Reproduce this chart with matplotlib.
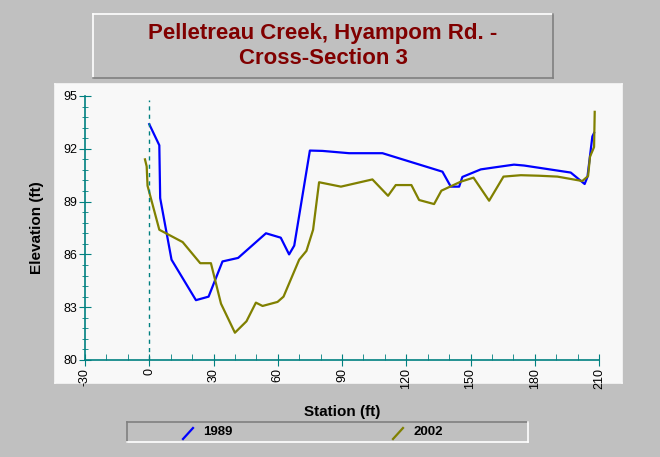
import numpy as np
import matplotlib
matplotlib.use("Agg")
import matplotlib.pyplot as plt
from matplotlib.patches import Rectangle
from matplotlib.lines import Line2D

plt.rcParams['font.family'] = ['Liberation Sans', 'DejaVu Sans']
plt.rcParams['axes.unicode_minus'] = False

# survey data
sta_1989 = [0, 4.7, 5.1, 10.4, 21.8, 27.7, 34.2, 41.5, 54.5, 61.4, 65.3, 67.7,
            75, 80.9, 93.3, 108.9, 136.9, 140.8, 144.7, 146.2, 154.8, 161,
            170.3, 175, 196.8, 200.6, 203.3, 204.6, 206.9, 207.7]
elev_1989 = [93.4, 92.2, 89.2, 85.7, 83.4, 83.6, 85.6, 85.8, 87.2, 86.95, 86.0, 86.5,
             91.9, 91.88, 91.75, 91.75, 90.7, 89.85, 89.85, 90.4, 90.83, 90.94,
             91.1, 91.05, 90.65, 90.27, 90.0, 90.4, 92.7, 92.9]

sta_2002 = [-2, -1.2, -0.8, 4.7, 15.6, 23.8, 28.8, 33.5, 40, 45.4, 49.8, 52.9,
            59.9, 62.7, 70, 73.4, 76.5, 79.3, 89.5, 104.2, 111.5, 115.1, 122.4,
            126, 133, 136.4, 145.4, 151.4, 158.7, 165.4, 173.5, 182, 190.6,
            202.2, 204.9, 205.8, 207.7, 208]
elev_2002 = [91.4, 91.0, 89.9, 87.4, 86.7, 85.5, 85.5, 83.2, 81.55, 82.2, 83.26, 83.07,
             83.3, 83.6, 85.7, 86.2, 87.4, 90.1, 89.85, 90.26, 89.33, 89.94, 89.94,
             89.09, 88.86, 89.62, 90.13, 90.36, 89.05, 90.42, 90.5, 90.47, 90.42,
             90.17, 90.45, 91.55, 92.1, 94.1]

years = ['1989', '2002']
colors = ['#0000ff', '#808000']
x_ticks = np.arange(-30, 211, 30)
y_ticks = np.arange(80, 96, 3)

W, H = 660, 457
fig = plt.figure(figsize=(W / 100, H / 100), dpi=100, facecolor='#c0c0c0')

def box(x0, y0, x1, y1, fc, light, dark):
    # pixel coords, top-left origin
    fig.patches.append(Rectangle((x0 / W, 1 - y1 / H), (x1 - x0) / W, (y1 - y0) / H,
                                 transform=fig.transFigure, facecolor=fc,
                                 edgecolor='none', zorder=-10))
    for (xa, ya, xb, yb, c) in [(x0, y0, x1, y0, light), (x0, y0, x0, y1, light),
                                (x0, y1, x1, y1, dark), (x1, y0, x1, y1, dark)]:
        fig.lines.append(Line2D([xa / W, xb / W], [1 - ya / H, 1 - yb / H],
                                transform=fig.transFigure, color=c, lw=1.2,
                                zorder=-5))

box(55, 84, 622, 383, '#f8f8f8', '#f8f8f8', '#f8f8f8')
box(93, 14, 553, 78, '#c0c0c0', '#ffffff', '#808080')
box(127, 422, 528, 442, '#c0c0c0', '#808080', '#ffffff')

fig.text(323 / W, 1 - 46 / H, 'Pelletreau Creek, Hyampom Rd. -\nCross-Section 3',
         ha='center', va='center', color='#800000', fontsize=16, fontweight='bold',
         linespacing=1.2)

ax = fig.add_axes([85 / W, 1 - 360 / H, (599 - 85) / W, (360 - 96) / H])
ax.patch.set_alpha(0)

ax.plot(sta_1989, elev_1989, color=colors[0], lw=1.6)
ax.plot(sta_2002, elev_2002, color=colors[1], lw=1.6)
ax.axvline(0, color='#008080', lw=1, ls=(0, (3, 3)), ymax=0.985)

ax.set_xlim(-30, 210)
ax.set_ylim(80, 95)
ax.set_xticks(x_ticks)
ax.set_yticks(y_ticks)
ax.set_xticks(np.arange(-30, 211, 10), minor=True)
ax.set_yticks(np.arange(80, 95.01, 0.6), minor=True)

for s in ['top', 'right']:
    ax.spines[s].set_visible(False)
for s in ['left', 'bottom']:
    ax.spines[s].set_color('#008080')
    ax.spines[s].set_linewidth(1.2)

ax.tick_params(axis='x', which='major', direction='inout', length=9, color='#008080',
               labelsize=9, labelrotation=90, pad=1)
ax.tick_params(axis='x', which='minor', direction='in', length=4, color='#008080')
ax.tick_params(axis='y', which='major', direction='inout', length=9, color='#008080',
               labelsize=9, pad=1)
ax.tick_params(axis='y', which='minor', direction='inout', length=5, color='#008080')

ax.set_xlabel('Station (ft)', fontsize=11, fontweight='bold', labelpad=12)
ax.set_ylabel('Elevation (ft)', fontsize=11, fontweight='bold', labelpad=14)

# legend entries
for i, (yr, c) in enumerate(zip(years, colors)):
    lx = [183, 393][i]
    fig.lines.append(Line2D([lx / W, (lx + 10) / W], [1 - 439 / H, 1 - 428 / H],
                            transform=fig.transFigure, color=c, lw=1.6))
    fig.text((lx + 20) / W, 1 - 432 / H, yr, ha='left', va='center',
             fontsize=9.5, fontweight='bold')

fig.savefig('out.png', dpi=100, facecolor=fig.get_facecolor())
